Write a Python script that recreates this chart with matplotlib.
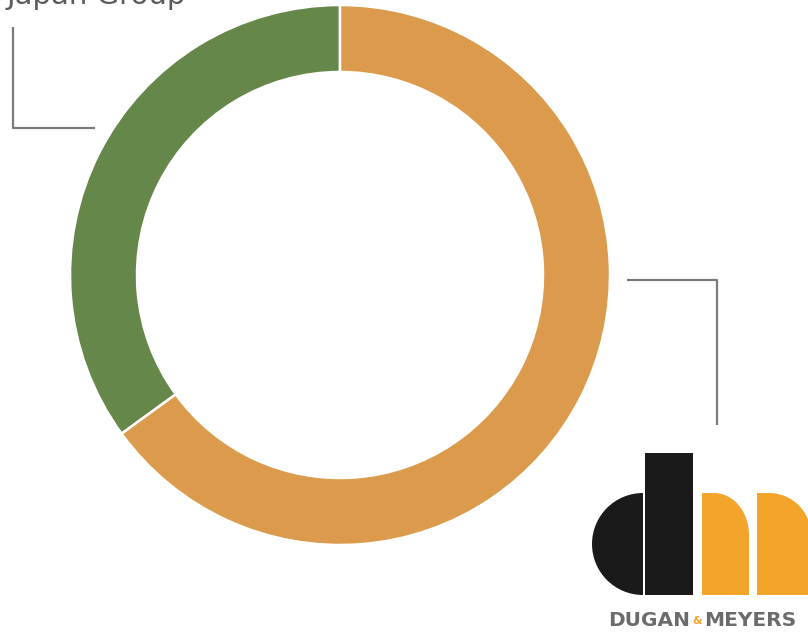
import numpy as np
import matplotlib.pyplot as plt
from matplotlib.patches import Rectangle, Wedge, Polygon

# shares of the ring
labels = ["Japan Group", "Dugan & Meyers"]
shares = [35, 65]
colors = ["#66874a", "#dc9a4c"]

W, H = 808, 632
fig = plt.figure(figsize=(W / 100, H / 100), dpi=100)
ax = fig.add_axes([0, 0, 1, 1])

ax.pie(shares, colors=colors, startangle=90, counterclock=True,
       center=(340, H - 275), radius=270,
       wedgeprops=dict(width=67, edgecolor="white", linewidth=1.8))

ax.set_xlim(0, W)
ax.set_ylim(0, H)
ax.set_aspect("equal")
ax.axis("off")

# leader lines
line_kw = dict(color="#7a7a7a", lw=1.6, solid_capstyle="butt")
ax.plot([13, 13, 95], [H - 27, H - 128, H - 128], **line_kw)
ax.plot([627, 717, 717], [H - 280, H - 280, H - 425], **line_kw)

# label cut off at the top
ax.text(186, H - 4, labels[0], ha="right", va="baseline",
        fontsize=21, color="#5a5a5a")

# logo: the "d"
ax.add_patch(Wedge((643, H - 544), 51, 90, 270, color="#1a1a1a", lw=0))
ax.add_patch(Rectangle((645, H - 595), 48, 142, color="#1a1a1a", lw=0))


# logo: the "m" arches (flat left side, rounded top-right)
def arch(x0, w, top=493, bottom=595, flat=12, drop=42):
    t = np.linspace(0, np.pi / 2, 40)
    a = w - flat
    cx, cy = x0 + flat, top + drop
    xs = cx + a * np.sin(t)
    ys = cy - drop * np.cos(t)
    pts = [(x0, bottom), (x0, top)] + list(zip(xs, ys)) + [(x0 + w, bottom)]
    return Polygon([(x, H - y) for x, y in pts], closed=True,
                   color="#f2a52a", lw=0)


ax.add_patch(arch(702, 47))
ax.add_patch(arch(757, 54))

ax.text(690, H - 620, "DUGAN", ha="right", va="center",
        fontsize=14.5, fontweight="bold", color="#6b6b6b")
ax.text(697, H - 621, "&", ha="center", va="center",
        fontsize=8, fontweight="bold", color="#f2a52a")
ax.text(704, H - 620, "MEYERS", ha="left", va="center",
        fontsize=14.5, fontweight="bold", color="#6b6b6b")

fig.savefig("out.png", dpi=100)
